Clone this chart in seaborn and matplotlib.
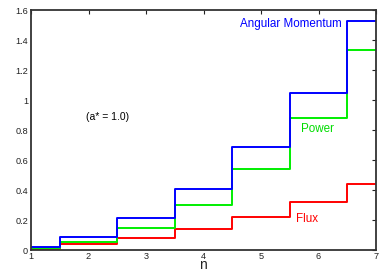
import matplotlib
matplotlib.use("Agg")
import matplotlib.pyplot as plt
import seaborn as sns
import pandas as pd

n = [1, 2, 3, 4, 5, 6, 7]
angular_momentum = [0.022, 0.089, 0.211, 0.405, 0.685, 1.049, 1.529]
power = [0.013, 0.055, 0.147, 0.302, 0.540, 0.882, 1.333]
flux = [0.008, 0.038, 0.080, 0.140, 0.218, 0.322, 0.438]

sns.set_theme(style="white")
plt.rcParams['font.family'] = ['Liberation Sans', 'DejaVu Sans']

fig = plt.figure(figsize=(3.89, 2.73), dpi=100)
ax = fig.add_axes([31/389, 23/273, 345/389, 240/273])

series = [("Flux", flux, "#ff0000"), ("Power", power, "#00ee00"),
          ("Angular Momentum", angular_momentum, "#0000ff")]
for name, vals, col in series:
    df = pd.DataFrame({"n": n, "v": vals})
    sns.lineplot(data=df, x="n", y="v", ax=ax, color=col, lw=1.4,
                 drawstyle="steps-mid")

ax.set_xlim(1, 7)
ax.set_ylim(0, 1.6)
ax.set_xticks(n)
ax.set_xticklabels([str(i) for i in n])
ax.set_yticks([0, 0.2, 0.4, 0.6, 0.8, 1.0, 1.2, 1.4, 1.6])
ax.set_yticklabels(["0", "0.2", "0.4", "0.6", "0.8", "1", "1.2", "1.4", "1.6"])
ax.tick_params(direction="in", length=3, width=0.8, labelsize=6.6, pad=2,
               top=True, right=True, colors="#222222")
ax.tick_params(axis="x", pad=1.5)
ax.set_xlabel("")
ax.set_ylabel("")
fig.text(203/389, 1/273, "n", fontsize=10, ha="center", va="bottom", color="#222222")
for s in ax.spines.values():
    s.set_color("#333333")
    s.set_linewidth(1.3)

ax.text(6.40, 1.507, "Angular Momentum", color="#0000ff", fontsize=8.4,
        ha="right", va="center")
ax.text(5.70, 0.81, "Power", color="#00dd00", fontsize=8.4, ha="left", va="center")
ax.text(5.61, 0.207, "Flux", color="#ff0000", fontsize=8.4, ha="left", va="center")
ax.text(2.34, 0.887, "(a* = 1.0)", color="black", fontsize=7.5, ha="center", va="center")

fig.savefig("out.png", dpi=100)
